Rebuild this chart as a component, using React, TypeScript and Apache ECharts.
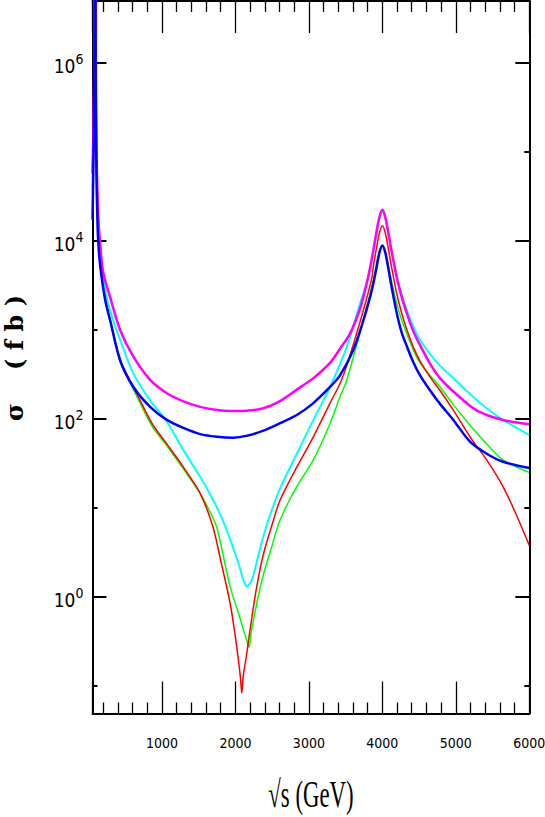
import React, { useEffect, useRef } from 'react';
import * as echarts from 'echarts';

// sqrt(s) in GeV, sigma in fb
const magentaX = [55, 70, 80, 86, 91, 96, 100, 110, 120, 135, 155, 200, 295, 431, 612, 839, 1067, 1292, 1520, 1750, 1950, 2150, 2381, 2600, 2835, 3061, 3288, 3424, 3560, 3680, 3741, 3800, 3840, 3880, 3920, 3960, 4000, 4040, 4080, 4120, 4196, 4260, 4332, 4420, 4513, 4650, 4785, 4966, 5238, 5420, 5642, 6000];
const magentaSigma = [57500, 224000, 1260000, 1.0e7, 3.98e7, 1.0e7, 794000, 100000, 39800, 17800, 10200, 4470, 2340, 1000, 501, 275, 195, 158, 137, 126, 123, 124, 132, 158, 214, 288, 427, 617, 912, 1585, 2340, 3720, 5370, 8130, 12600, 18600, 22400, 18600, 12600, 8130, 3890, 2400, 1550, 977, 676, 417, 288, 204, 132, 111, 97.7, 87.1];

const blueX = [55, 70, 80, 86, 91, 96, 100, 110, 120, 132, 160, 227, 295, 431, 612, 839, 1067, 1292, 1520, 1750, 1969, 2150, 2381, 2600, 2835, 3061, 3288, 3424, 3605, 3720, 3833, 3887, 3920, 3960, 4000, 4040, 4080, 4120, 4196, 4260, 4332, 4420, 4513, 4650, 4785, 4966, 5193, 5420, 5642, 6000];
const blueSigma = [17400, 100000, 794000, 1.0e7, 3.98e7, 1.0e7, 398000, 50100, 20000, 10200, 5250, 2190, 1290, 457, 229, 137, 97.7, 79.4, 67.6, 63.1, 61.7, 64.6, 74.1, 89.1, 111, 151, 229, 309, 596, 1120, 2340, 3630, 5010, 7410, 8910, 7410, 5010, 3240, 1550, 955, 661, 437, 309, 209, 148, 97.7, 55.6, 40.7, 33.1, 28.2];

const cyanX = [55, 70, 80, 86, 91, 96, 100, 110, 120, 135, 160, 227, 295, 431, 612, 839, 1067, 1292, 1520, 1747, 1883, 2041, 2109, 2155, 2223, 2313, 2381, 2463, 2608, 2835, 3061, 3288, 3516, 3697, 3788, 3840, 3880, 3920, 3960, 4000, 4040, 4080, 4120, 4196, 4260, 4332, 4420, 4513, 4650, 4785, 4966, 5193, 5420, 5642, 6000];
const cyanSigma = [50100, 200000, 1120000, 1.0e7, 3.98e7, 1.0e7, 631000, 79400, 31600, 14100, 7940, 2820, 1660, 776, 324, 162, 93.3, 44.7, 22.4, 10.2, 5.62, 2.40, 1.55, 1.31, 1.55, 2.95, 4.79, 7.94, 16.6, 40.7, 97.7, 229, 646, 2000, 3390, 5010, 7760, 12000, 17800, 21400, 17800, 12300, 8130, 4070, 2570, 1700, 1100, 776, 537, 398, 288, 191, 132, 97.7, 66.1];

const redX = [55, 70, 80, 86, 91, 96, 100, 110, 120, 132, 160, 227, 295, 431, 522, 703, 880, 1067, 1292, 1520, 1690, 1800, 1928, 2000, 2041, 2070, 2087, 2105, 2155, 2220, 2291, 2381, 2517, 2608, 2835, 3061, 3288, 3424, 3516, 3741, 3856, 3880, 3920, 3960, 4000, 4040, 4080, 4120, 4196, 4260, 4332, 4420, 4513, 4650, 4785, 4966, 5193, 5420, 5642, 5820, 6000];
const redSigma = [40700, 178000, 1000000, 1.0e7, 3.98e7, 1.0e7, 501000, 63100, 25100, 12600, 6030, 2240, 1290, 457, 316, 162, 85.1, 52.5, 28.8, 14.6, 6.31, 2.57, 0.851, 0.355, 0.195, 0.120, 0.0832, 0.126, 0.234, 0.562, 1.32, 3.02, 7.24, 12.3, 28.8, 63.1, 151, 251, 398, 1660, 3800, 5370, 8320, 12300, 14800, 12300, 8320, 5370, 2570, 1585, 1020, 646, 447, 295, 209, 126, 63.1, 34.7, 17.4, 8.51, 3.80];

const greenX = [55, 70, 80, 86, 91, 96, 100, 110, 120, 132, 160, 227, 295, 431, 522, 703, 880, 1067, 1292, 1520, 1640, 1747, 1928, 2050, 2109, 2160, 2186, 2215, 2291, 2381, 2500, 2608, 2835, 3061, 3288, 3424, 3516, 3741, 3877, 3920, 3960, 4000, 4040, 4080, 4120, 4196, 4260, 4332, 4420, 4513, 4650, 4785, 4966, 5193, 5420, 5642, 6000];
const greenSigma = [35500, 158000, 1000000, 1.0e7, 3.98e7, 1.0e7, 501000, 63100, 25100, 12600, 6030, 2240, 1260, 437, 302, 151, 79.4, 50.1, 27.5, 14.6, 9.55, 6.03, 1.31, 0.631, 0.427, 0.316, 0.272, 0.398, 0.851, 1.78, 3.80, 7.33, 17.4, 34.7, 89.1, 178, 275, 1290, 3630, 5500, 7590, 8910, 7590, 5370, 3720, 1995, 1320, 912, 603, 427, 309, 229, 145, 85.1, 52.5, 34.7, 25.1];

const yMajorExponents = [0, 2, 4, 6];
const xTickValues = [1000, 2000, 3000, 4000, 5000, 6000];

const NARROW = '"Liberation Sans Narrow", "DejaVu Sans Condensed", "Liberation Sans", sans-serif';

export default function App() {
  const ref = useRef<HTMLDivElement>(null);
  useEffect(() => {
    if (!ref.current) return;
    const chart = echarts.init(ref.current, null, { renderer: 'svg' });
    const mk = (xs: number[], ys: number[]) => xs.map((x, i) => [x, ys[i]]);
    const line = (name: string, xs: number[], ys: number[], color: string, width: number, z: number) => ({
      name,
      type: 'line',
      xAxisIndex: 0,
      yAxisIndex: 0,
      data: mk(xs, ys),
      showSymbol: false,
      symbol: 'none',
      smooth: 0.3,
      clip: true,
      z,
      lineStyle: { color, width },
    });
    const black = '#000';
    const xAxisBase = {
      gridIndex: 0,
      type: 'value',
      min: 55,
      max: 6000,
      axisLine: { show: true, lineStyle: { color: black, width: 2 } },
      axisTick: { show: true, inside: true, length: 32, lineStyle: { color: black, width: 1.3 } },
      minorTick: { show: true, splitNumber: 5, length: 11, lineStyle: { color: black, width: 1.3 } },
      splitLine: { show: false },
      minorSplitLine: { show: false },
    };
    const logAxisBase = {
      gridIndex: 0,
      type: 'log',
      logBase: 10,
      min: Math.pow(10, -1.309),
      max: Math.pow(10, 6.697),
      axisLine: { show: true, lineStyle: { color: black, width: 2 } },
      axisTick: { show: true, inside: true, length: 5, lineStyle: { color: black, width: 2 } },
      axisLabel: { show: false },
      splitLine: { show: false },
    };
    const majorYBase = {
      gridIndex: 1,
      type: 'value',
      min: yMajorExponents[0],
      max: yMajorExponents[yMajorExponents.length - 1],
      interval: 2,
      axisLine: { show: false },
      axisTick: { show: true, inside: true, length: 14, lineStyle: { color: black, width: 2 } },
      splitLine: { show: false },
    };
    const option: any = {
      animation: false,
      backgroundColor: '#fff',
      grid: [
        { left: 92.5, right: 15.7, top: 1, height: 712.5, containLabel: false, outerBoundsMode: 'none' },
        { left: 92.5, right: 15.7, top: 63, height: 534, containLabel: false, outerBoundsMode: 'none' },
      ],
      xAxis: [
        {
          ...xAxisBase,
          position: 'bottom',
          axisLabel: {
            show: true,
            margin: 22,
            fontSize: 14,
            fontFamily: NARROW,
            color: black,
            formatter: (v: number) => (xTickValues.indexOf(v) >= 0 ? String(v) : ''),
          },
        },
        { ...xAxisBase, position: 'top', axisLabel: { show: false } },
        { gridIndex: 1, type: 'value', min: 0, max: 1, show: false },
      ],
      yAxis: [
        { ...logAxisBase, position: 'left' },
        { ...logAxisBase, position: 'right' },
        {
          ...majorYBase,
          position: 'left',
          axisLabel: {
            show: true,
            margin: 9,
            color: black,
            formatter: (v: number) => `{b|10}{s|${v}}`,
            rich: {
              b: { fontSize: 19, fontFamily: NARROW, color: black, padding: [6, 0, 0, 0] },
              s: { fontSize: 14, fontFamily: NARROW, color: black, padding: [0, 0, 8, 0] },
            },
          },
        },
        { ...majorYBase, position: 'right', axisLabel: { show: false } },
      ],
      series: [
        line('green', greenX, greenSigma, '#00ff00', 1.5, 2),
        line('red', redX, redSigma, '#ff0000', 1.5, 3),
        line('cyan', cyanX, cyanSigma, '#00ffff', 2, 4),
        line('magenta', magentaX, magentaSigma, '#ff00ff', 2.5, 5),
        line('blue', blueX, blueSigma, '#0000ff', 2.5, 6),
      ],
      graphic: [
        {
          type: 'text',
          x: 311,
          y: 794,
          scaleX: 0.6,
          style: {
            text: '√s (GeV)',
            fontSize: 38,
            fontFamily: '"Liberation Serif", "DejaVu Serif", serif',
            fill: black,
            textAlign: 'center',
            textVerticalAlign: 'middle',
          },
        },
        {
          type: 'text',
          x: 14,
          y: 358,
          rotation: Math.PI / 2,
          style: {
            text: 'σ    ( f b )',
            fontSize: 24,
            fontWeight: 'bold',
            fontFamily: '"DejaVu Serif", "Liberation Serif", serif',
            fill: black,
            textAlign: 'center',
            textVerticalAlign: 'middle',
          },
        },
      ],
    };
    chart.setOption(option);
    return () => chart.dispose();
  }, []);
  return (
    <div
      ref={ref}
      style={{ position: 'absolute', left: 0, top: 0, width: 545, height: 817, background: '#fff' }}
    />
  );
}
